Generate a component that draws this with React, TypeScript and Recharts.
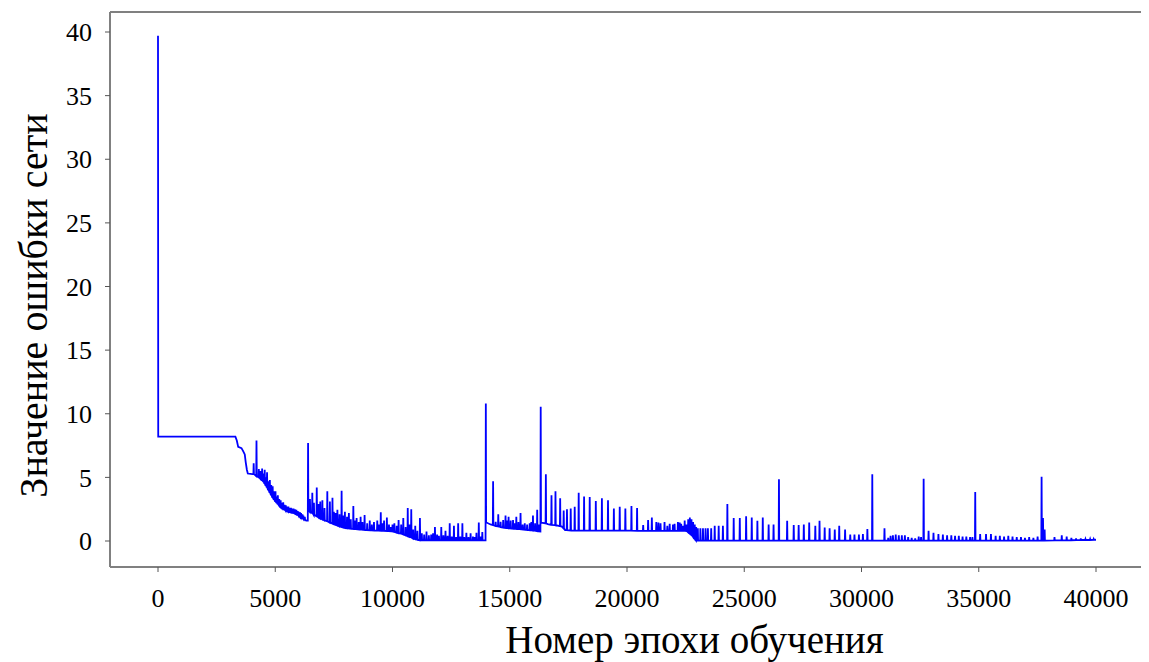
import React from 'react';
import { LineChart, Line, XAxis, YAxis, CartesianGrid } from 'recharts';

const xTicks = [0, 5000, 10000, 15000, 20000, 25000, 30000, 35000, 40000];
const yTicks = [0, 5, 10, 15, 20, 25, 30, 35, 40];

// smooth part of the curve: [epoch, error]
const baseline: [number, number][] = [
    [0, 39.7], [10, 8.2], [3300, 8.2], [3360, 7.9], [3420, 7.4], [3560, 7.3], [3620, 7.1],
    [3700, 6.8], [3740, 6.2], [3790, 5.6], [3830, 5.3], [4030, 5.25],
    [6330, 1.6], [6430, 2.4],
    [14010, 1.45], [14180, 1.3],
    [16350, 1.45], [16620, 1.33], [16920, 1.25], [17210, 1.15], [17360, 0.85], [22490, 0.8],
    [22980, 0.03], [40000, 0.1],
];

// spikes: [epoch, floor, peak, floor after (optional)]
const spikesEarly: number[][] = [
    [4080, 5.25, 6.1], [4200, 5.1, 7.9], [4300, 5.0, 5.65], [4370, 4.9, 5.5], [4440, 4.8, 5.7],
    [4500, 4.65, 5.3], [4550, 4.5, 5.6], [4600, 4.35, 5.0], [4650, 4.2, 5.4], [4710, 4.0, 4.7],
    [4770, 3.8, 4.8], [4830, 3.6, 4.4], [4890, 3.4, 4.3], [4950, 3.25, 3.9], [5010, 3.1, 3.9],
    [5060, 3.0, 3.5], [5110, 2.9, 3.6], [5170, 2.8, 3.3], [5230, 2.7, 3.2], [5290, 2.6, 3.0],
    [5340, 2.55, 3.05], [5400, 2.48, 2.85], [5450, 2.4, 2.8], [5510, 2.35, 2.7], [5560, 2.3, 2.7],
    [5620, 2.28, 2.6], [5670, 2.25, 2.6], [5730, 2.22, 2.55], [5780, 2.2, 2.55], [5840, 2.15, 2.5],
    [5900, 2.1, 2.45], [5960, 2.05, 2.35], [6000, 2.0, 2.3], [6060, 1.9, 2.25], [6100, 1.85, 2.2],
    [6160, 1.8, 2.1], [6200, 1.75, 2.0], [6260, 1.68, 1.9], [6400, 1.6, 7.7, 2.4],
];

const spikesMid: number[][] = [
    [6480, 2.3, 3.3], [6580, 2.2, 3.8], [6650, 2.05, 3.0], [6770, 1.95, 4.2], [6850, 1.85, 2.9],
    [6920, 1.78, 3.1], [7010, 1.7, 3.2], [7100, 1.62, 2.6], [7220, 1.55, 3.9], [7330, 1.45, 3.1],
    [7440, 1.37, 3.4], [7500, 1.33, 2.3], [7570, 1.28, 2.2], [7650, 1.22, 2.45], [7740, 1.15, 2.1],
    [7830, 1.1, 3.95], [7900, 1.07, 2.0], [7970, 1.03, 2.3], [8060, 1.0, 1.9], [8140, 0.98, 2.2],
    [8220, 0.97, 1.7], [8330, 0.95, 2.75], [8400, 0.94, 1.6], [8470, 0.93, 1.8], [8560, 0.91, 1.5],
    [8640, 0.9, 1.9], [8720, 0.89, 1.5], [8810, 0.87, 2.05], [8920, 0.86, 1.4], [9030, 0.85, 1.6],
    [9120, 0.84, 1.3], [9210, 0.83, 1.5], [9350, 0.82, 1.6], [9420, 0.82, 1.3], [9500, 0.81, 2.25],
    [9570, 0.8, 1.4], [9640, 0.8, 1.6], [9760, 0.79, 1.85], [9850, 0.78, 1.3], [9930, 0.77, 1.1],
    [10000, 0.75, 1.3], [10080, 0.72, 1.4], [10180, 0.66, 1.2], [10260, 0.62, 1.65], [10370, 0.58, 1.3],
    [10460, 0.52, 1.8], [10560, 0.45, 1.1], [10650, 0.38, 2.6], [10720, 0.33, 1.3], [10800, 0.28, 2.5],
    [10880, 0.2, 0.9], [10970, 0.15, 1.2], [11060, 0.1, 0.8], [11170, 0.05, 1.8], [11250, 0.05, 0.6],
    [11350, 0.05, 0.5], [11450, 0.05, 0.75], [11550, 0.05, 0.45], [11650, 0.05, 0.5], [11730, 0.05, 0.6],
    [11810, 0.05, 1.1], [11900, 0.05, 0.5], [11980, 0.05, 0.4], [12080, 0.05, 1.1], [12170, 0.05, 0.45],
    [12260, 0.05, 0.8], [12350, 0.05, 0.4], [12440, 0.05, 1.4], [12530, 0.05, 0.35], [12620, 0.05, 1.2],
    [12710, 0.05, 0.3], [12800, 0.05, 1.4], [12890, 0.05, 0.35], [12980, 0.05, 1.4], [13060, 0.05, 0.3],
    [13150, 0.05, 0.65], [13240, 0.05, 0.3], [13330, 0.05, 0.6], [13430, 0.05, 0.35], [13500, 0.05, 0.3],
    [13580, 0.05, 0.65], [13680, 0.05, 1.45], [13760, 0.05, 0.35], [13830, 0.05, 0.7],
    [13980, 0.05, 10.8, 1.45],
    [14290, 1.25, 4.7], [14400, 1.18, 1.5], [14510, 1.15, 2.1], [14610, 1.1, 1.5], [14720, 1.05, 1.65],
    [14820, 1.03, 2.0], [14890, 1.02, 1.6], [14950, 1.0, 1.9], [15040, 0.99, 1.6], [15140, 0.97, 1.65],
    [15210, 0.96, 1.4], [15280, 0.95, 1.9], [15370, 0.94, 1.5], [15460, 0.93, 2.2], [15550, 0.91, 1.3],
    [15640, 0.89, 1.4], [15740, 0.87, 1.3], [15850, 0.85, 1.4], [15920, 0.84, 1.5], [15990, 0.82, 2.0],
    [16080, 0.8, 1.4], [16170, 0.78, 2.45], [16240, 0.76, 1.3],
    [16320, 0.75, 10.55, 1.45],
];

const spikesLate: number[][] = [
    [16540, 1.38, 5.25], [16780, 1.27, 3.6], [16950, 1.24, 3.9], [17150, 1.17, 3.35], [17300, 1.0, 2.4],
    [17440, 0.85, 2.5], [17600, 0.82, 2.55], [17770, 0.82, 2.7], [17940, 0.82, 3.8], [18170, 0.82, 3.5],
    [18410, 0.82, 3.45], [18670, 0.82, 3.15], [18930, 0.81, 3.35], [19190, 0.81, 3.2], [19440, 0.81, 2.55],
    [19690, 0.81, 2.7], [19930, 0.81, 2.55], [20190, 0.81, 2.75], [20430, 0.8, 2.6], [20690, 0.8, 1.25],
    [20900, 0.8, 1.65], [21060, 0.8, 1.85], [21250, 0.8, 1.5], [21340, 0.8, 1.45], [21430, 0.8, 1.4],
    [21600, 0.8, 1.5], [21720, 0.8, 1.2], [21820, 0.8, 1.35], [21960, 0.8, 1.3], [22030, 0.8, 1.35],
    [22170, 0.8, 1.5], [22250, 0.8, 1.45], [22310, 0.8, 1.35], [22390, 0.8, 1.2], [22460, 0.8, 1.6],
    [22540, 0.78, 1.3], [22610, 0.7, 1.7], [22680, 0.6, 1.85], [22750, 0.5, 1.7], [22820, 0.35, 1.5],
    [22890, 0.2, 1.3], [22950, 0.08, 1.1],
    [23020, 0.03, 1.0], [23130, 0.03, 1.0], [23240, 0.03, 1.0], [23350, 0.03, 1.0], [23450, 0.03, 1.0],
    [23590, 0.03, 1.0], [23740, 0.03, 1.2], [23910, 0.03, 1.2], [24090, 0.03, 1.2], [24280, 0.03, 2.9],
    [24550, 0.03, 1.8], [24810, 0.03, 1.8], [25080, 0.03, 1.95], [25320, 0.03, 1.85], [25560, 0.03, 1.6],
    [25790, 0.03, 1.85], [26040, 0.03, 1.3], [26250, 0.03, 1.3], [26480, 0.03, 4.85], [26830, 0.03, 1.6],
    [27110, 0.03, 1.25], [27320, 0.03, 1.25], [27540, 0.03, 1.3], [27770, 0.03, 1.45], [28030, 0.03, 1.2],
    [28210, 0.03, 1.6], [28430, 0.03, 1.05], [28640, 0.03, 1.0], [28860, 0.03, 0.9], [29050, 0.03, 1.2],
    [29300, 0.03, 0.9], [29520, 0.03, 0.5], [29700, 0.03, 0.5], [29890, 0.03, 0.5], [30060, 0.03, 0.55],
    [30250, 0.03, 0.95], [30460, 0.03, 5.25], [30980, 0.03, 1.0], [31140, 0.03, 0.25], [31240, 0.03, 0.4],
    [31340, 0.03, 0.45], [31460, 0.03, 0.5], [31590, 0.03, 0.45], [31720, 0.03, 0.45], [31850, 0.03, 0.45],
    [31990, 0.03, 0.3], [32140, 0.03, 0.25], [32290, 0.03, 0.2], [32440, 0.03, 0.35], [32540, 0.03, 0.3],
    [32650, 0.03, 4.9], [32860, 0.03, 0.8], [33070, 0.03, 0.65], [33280, 0.03, 0.55], [33470, 0.03, 0.5],
    [33650, 0.03, 0.45], [33830, 0.03, 0.45], [33990, 0.03, 0.4], [34150, 0.03, 0.4], [34310, 0.03, 0.35],
    [34470, 0.03, 0.35], [34630, 0.03, 0.3], [34730, 0.03, 0.3], [34850, 0.03, 3.85], [35060, 0.03, 0.55],
    [35310, 0.03, 0.55], [35520, 0.03, 0.55], [35720, 0.03, 0.4], [35900, 0.03, 0.4], [36080, 0.03, 0.35],
    [36260, 0.03, 0.4], [36440, 0.03, 0.35], [36620, 0.03, 0.3], [36800, 0.03, 0.3], [36970, 0.03, 0.25],
    [37150, 0.03, 0.3], [37330, 0.03, 0.25], [37510, 0.03, 0.35], [37680, 0.03, 5.05], [37740, 0.03, 1.8],
    [37810, 0.03, 0.9], [38230, 0.05, 0.3], [38540, 0.05, 0.45], [38750, 0.05, 0.35], [38950, 0.06, 0.25],
    [39150, 0.07, 0.2], [39350, 0.08, 0.2], [39550, 0.08, 0.15], [39750, 0.08, 0.15], [39900, 0.09, 0.15],
];

const SPIKE_HALF = 12;

const points = [
    ...baseline.map(([epoch, error]) => ({ epoch, error })),
    ...[...spikesEarly, ...spikesMid, ...spikesLate].flatMap(([epoch, floor, peak, after]) => [
        { epoch: epoch - SPIKE_HALF, error: floor },
        { epoch, error: peak },
        { epoch: epoch + SPIKE_HALF, error: after ?? floor },
    ]),
].sort((a, b) => a.epoch - b.epoch);

const font = "'Liberation Serif', 'Times New Roman', serif";
const frame = { stroke: '#808080', strokeWidth: 2 };

const XTitle = (props: any) => {
    const { x, y, width, height } = props.viewBox;
    return (
        <text x={x + width / 2 + 68} y={y + height - 9} textAnchor="middle"
            style={{ fontFamily: font, fontSize: 39 }} fill="#000">
            Номер эпохи обучения
        </text>
    );
};

const YTitle = (props: any) => {
    const { y, height } = props.viewBox;
    const cx = 39;
    const cy = y + height / 2 + 16;
    return (
        <text x={cx} y={cy} transform={`rotate(-90, ${cx}, ${cy})`} textAnchor="middle"
            style={{ fontFamily: font, fontSize: 40 }} fill="#000">
            Значение ошибки сети
        </text>
    );
};

export default function App() {
    return (
        <div style={{ width: 1141, height: 654 }}>
            <LineChart width={1141} height={654} data={points} margin={{ top: 4, right: 6, bottom: 0, left: 0 }}>
                {/* top and right edges of the box */}
                <CartesianGrid
                    stroke="#808080"
                    strokeWidth={2}
                    horizontalCoordinatesGenerator={({ offset }: any) => [offset.top]}
                    verticalCoordinatesGenerator={({ offset }: any) => [offset.left + offset.width]}
                />
                <XAxis
                    dataKey="epoch"
                    type="number"
                    domain={[0, 40000]}
                    ticks={xTicks}
                    interval={0}
                    padding={{ left: 48, right: 47 }}
                    height={95}
                    tickSize={5}
                    tickMargin={17}
                    axisLine={frame}
                    tickLine={{ stroke: '#555' }}
                    tick={{ fill: '#000', fontSize: 26, fontFamily: font }}
                    label={XTitle}
                />
                <YAxis
                    type="number"
                    domain={[0, 40]}
                    ticks={yTicks}
                    interval={0}
                    padding={{ top: 20, bottom: 26 }}
                    width={102}
                    tickSize={5}
                    tickMargin={13}
                    axisLine={frame}
                    tickLine={{ stroke: '#555' }}
                    tick={{ fill: '#000', fontSize: 26, fontFamily: font }}
                    label={YTitle}
                />
                <Line
                    dataKey="error"
                    type="linear"
                    stroke="#0000ff"
                    strokeWidth={1.8}
                    dot={false}
                    isAnimationActive={false}
                />
            </LineChart>
        </div>
    );
}
